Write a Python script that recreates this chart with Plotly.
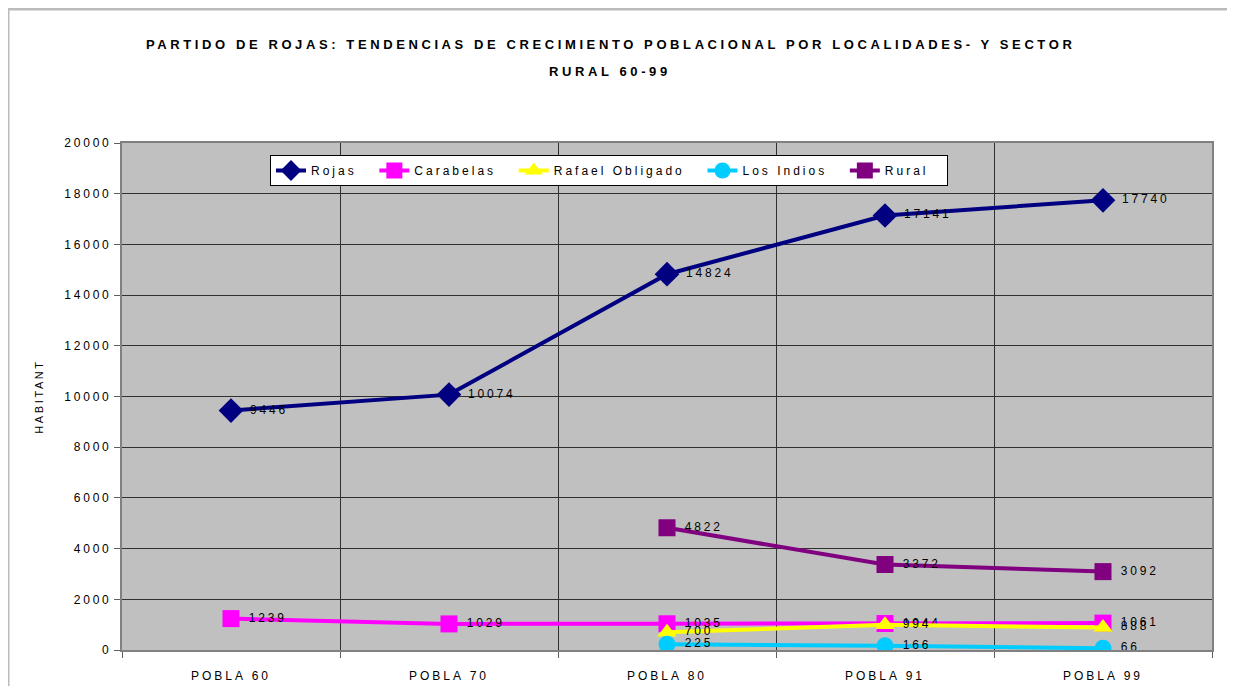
import plotly.graph_objects as go

categories = ["POBLA 60", "POBLA 70", "POBLA 80", "POBLA 91", "POBLA 99"]
rojas = [9446, 10074, 14824, 17141, 17740]
carabelas = [1239, 1029, 1035, 1044, 1061]
rafael = [None, None, 700, 994, 888]
los_indios = [None, None, 225, 166, 66]
rural = [None, None, 4822, 3372, 3092]
title_lines = ["PARTIDO DE ROJAS: TENDENCIAS DE CRECIMIENTO POBLACIONAL POR LOCALIDADES- Y SECTOR",
               "RURAL 60-99"]
y_ticks = list(range(0, 20001, 2000))

series = [
    ("Rojas", rojas, "#000080", "diamond", 19),
    ("Carabelas", carabelas, "#FF00FF", "square", 17),
    ("Rafael Obligado", rafael, "#FFFF00", "triangle-up", 17),
    ("Los Indios", los_indios, "#00CCFF", "circle", 17),
    ("Rural", rural, "#800080", "square", 17),
]

FONT = "Liberation Sans, Arial, sans-serif"

def sp(s, ls="letter-spacing:2.5px"):
    return f'<span style="{ls}">{s}</span>'

# page body has an 8px margin
PL, PR, PT, PB = 122, 1212, 143, 650
OFF = 8
W, H = 1235, 686

fig = go.Figure()
for name, vals, color, sym, size in series:
    fig.add_trace(go.Scatter(
        x=categories, y=vals, name=sp(name + "\u00a0\u00a0", "letter-spacing:3px"),
        mode="lines+markers+text",
        line=dict(color=color, width=4),
        marker=dict(symbol=sym, size=size, color=color),
        text=[sp(" " + str(v), "letter-spacing:2.8px") if v is not None else "" for v in vals],
        textposition="middle right",
        textfont=dict(family=FONT, size=12, color="black"),
        connectgaps=False,
    ))

pw = PR - PL
ph = PB - PT
annotations = []
for line, ypix in zip(title_lines, [45, 72]):
    annotations.append(dict(
        text="<b>" + sp(line, "letter-spacing:3.6px") + "</b>",
        xref="paper", yref="paper",
        x=(610 - PL) / pw, y=(PB - ypix) / ph,
        xanchor="center", yanchor="middle", showarrow=False,
        font=dict(family=FONT, size=13, color="black"),
    ))

fig.update_layout(
    width=W, height=H,
    margin=dict(l=PL - OFF, r=W + OFF - PR, t=PT - OFF, b=H + OFF - PB, autoexpand=False),
    paper_bgcolor="white",
    plot_bgcolor="#C0C0C0",
    font=dict(family=FONT, size=11, color="black"),
    annotations=annotations,
    legend=dict(
        orientation="h", x=(270 - PL) / pw, y=(PB - 155) / ph, xanchor="left", yanchor="top",
        bgcolor="white", bordercolor="black", borderwidth=1,
        font=dict(family=FONT, size=12, color="black"),
        tracegroupgap=0,
    ),
    xaxis=dict(
        type="category", tickson="boundaries",
        showgrid=True, gridcolor="#303030", gridwidth=1,
        showline=True, linecolor="#808080", linewidth=2, mirror=True,
        ticks="outside", ticklen=6, tickcolor="#606060",
        tickvals=categories,
        ticktext=[sp(c, "letter-spacing:3px") for c in categories],
        tickfont=dict(family=FONT, size=12, color="black"),
        ticklabelstandoff=14,
        range=[-0.5, 4.5],
    ),
    yaxis=dict(
        range=[0, 20000],
        tickvals=y_ticks,
        ticktext=[sp(str(v), "letter-spacing:2.8px") for v in y_ticks],
        showgrid=True, gridcolor="#303030", gridwidth=1,
        showline=True, linecolor="#808080", linewidth=2, mirror=True,
        ticks="outside", ticklen=6, tickcolor="#606060",
        tickfont=dict(family=FONT, size=12, color="black"),
        title=dict(text=sp("HABITANT", "letter-spacing:2.6px"),
                   font=dict(family=FONT, size=11, color="black"), standoff=18),
        zeroline=False,
    ),
    shapes=[dict(
        type="rect", xref="paper", yref="paper",
        x0=(8 - PL) / pw, x1=(1232 - PL) / pw,
        y0=(PB - 720) / ph, y1=(PB - 9) / ph,
        line=dict(color="#BBBBBB", width=3), fillcolor="rgba(0,0,0,0)", layer="below",
    )],
)

fig.write_html("out.html")
